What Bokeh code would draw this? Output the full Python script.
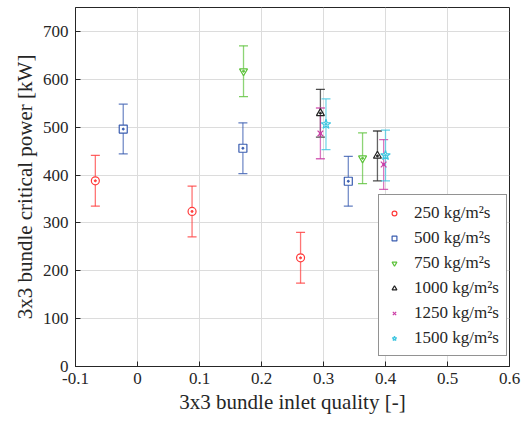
from bokeh.plotting import figure
from bokeh.models import ColumnDataSource, Whisker, TeeHead, Legend, LegendItem, Range1d, FixedTicker
from bokeh.embed import file_html
from bokeh.resources import INLINE

# ---- data ----
labels = ["250 kg/m\u00b2s", "500 kg/m\u00b2s", "750 kg/m\u00b2s",
          "1000 kg/m\u00b2s", "1250 kg/m\u00b2s", "1500 kg/m\u00b2s"]

x_250 = [-0.068, 0.088, 0.263]
y_250 = [388, 324, 227]
e_250 = [53, 53, 53]

x_500 = [-0.023, 0.170, 0.340]
y_500 = [496, 456, 387]
e_500 = [52, 53, 52]

x_750 = [0.171, 0.363]
y_750 = [617, 435]
e_750 = [53, 53]

x_1000 = [0.295, 0.387]
y_1000 = [529, 440]
e_1000 = [50, 52]

x_1250 = [0.295, 0.397]
y_1250 = [487, 422]
e_1250 = [53, 52]

x_1500 = [0.304, 0.400]
y_1500 = [506, 441]
e_1500 = [53, 53]

x_ticks = [-0.1, 0, 0.1, 0.2, 0.3, 0.4, 0.5, 0.6]
y_ticks = [0, 100, 200, 300, 400, 500, 600, 700]

series = [
    (x_250, y_250, e_250, "circle", "#ff3b3b"),
    (x_500, y_500, e_500, "square", "#3a5db0"),
    (x_750, y_750, e_750, "inverted_triangle", "#5cc23a"),
    (x_1000, y_1000, e_1000, "triangle", "#222222"),
    (x_1250, y_1250, e_1250, "x", "#cc3fa6"),
    (x_1500, y_1500, e_1500, "star", "#3fc6e0"),
]

FONT = "'Liberation Serif', 'Times New Roman', serif"
AX = "#262626"

p = figure(width=528, height=429, output_backend="svg", toolbar_location=None,
           x_range=Range1d(-0.1, 0.6), y_range=Range1d(0, 750),
           min_border_left=75, min_border_right=19, min_border_top=7, min_border_bottom=63)
p.background_fill_color = "white"
p.border_fill_color = "white"
p.outline_line_color = AX
p.outline_line_width = 1

for ax, ticks in ((p.xaxis[0], x_ticks), (p.yaxis[0], y_ticks)):
    ax.ticker = FixedTicker(ticks=ticks)
    ax.major_tick_in = 5
    ax.major_tick_out = 0
    ax.minor_tick_line_color = None
    ax.axis_line_color = AX
    ax.major_tick_line_color = AX
    ax.major_label_text_font = FONT
    ax.major_label_text_font_size = "17px"
    ax.major_label_text_color = "#262626"
    ax.axis_label_text_font = FONT
    ax.axis_label_text_font_size = "21px"
    ax.axis_label_text_font_style = "normal"
    ax.axis_label_text_color = "#262626"

p.xaxis[0].axis_label = "3x3 bundle inlet quality [-]"
p.yaxis[0].axis_label = "3x3 bundle critical power [kW]"
p.xaxis[0].major_label_standoff = 6
p.xaxis[0].axis_label_standoff = 3
p.yaxis[0].major_label_standoff = 7
p.yaxis[0].axis_label_standoff = 3
p.xaxis[0].major_label_overrides = {-0.1: "-0.1", 0: "0", 0.1: "0.1", 0.2: "0.2",
                                    0.3: "0.3", 0.4: "0.4", 0.5: "0.5", 0.6: "0.6"}

p.xgrid.ticker = FixedTicker(ticks=x_ticks)
p.ygrid.ticker = FixedTicker(ticks=y_ticks)
p.xgrid.grid_line_color = "#dcdcdc"
p.ygrid.grid_line_color = "#dcdcdc"

items = []
for (xs, ys, es, marker, color), lab in zip(series, labels):
    src = ColumnDataSource(dict(x=xs, y=ys,
                                lo=[a - b for a, b in zip(ys, es)],
                                hi=[a + b for a, b in zip(ys, es)]))
    w = Whisker(source=src, base="x", lower="lo", upper="hi", dimension="height",
                line_color=color, line_alpha=0.7, line_width=1.3,
                upper_head=TeeHead(size=9, line_color=color, line_alpha=0.8, line_width=1.3),
                lower_head=TeeHead(size=9, line_color=color, line_alpha=0.8, line_width=1.3))
    p.add_layout(w)
    fill = None if marker == "x" else "white"
    r = p.scatter("x", "y", source=src, marker=marker, size=8 if marker != "star" else 10,
                  line_color=color, fill_color=fill, line_width=1.2)
    p.scatter("x", "y", source=src, marker="circle", size=2, line_color=color, fill_color=color)
    items.append(LegendItem(label=lab, renderers=[r]))

legend = Legend(items=items, location=(303, 10),
                label_text_font=FONT, label_text_font_size="17px", label_text_color="#262626",
                label_height=21, glyph_height=12, glyph_width=16, spacing=4, padding=7,
                label_standoff=12, border_line_color=AX, border_line_width=1,
                background_fill_color="white", background_fill_alpha=1.0, margin=0)
p.add_layout(legend, "center")

open("out.html", "w").write(file_html(p, INLINE))
